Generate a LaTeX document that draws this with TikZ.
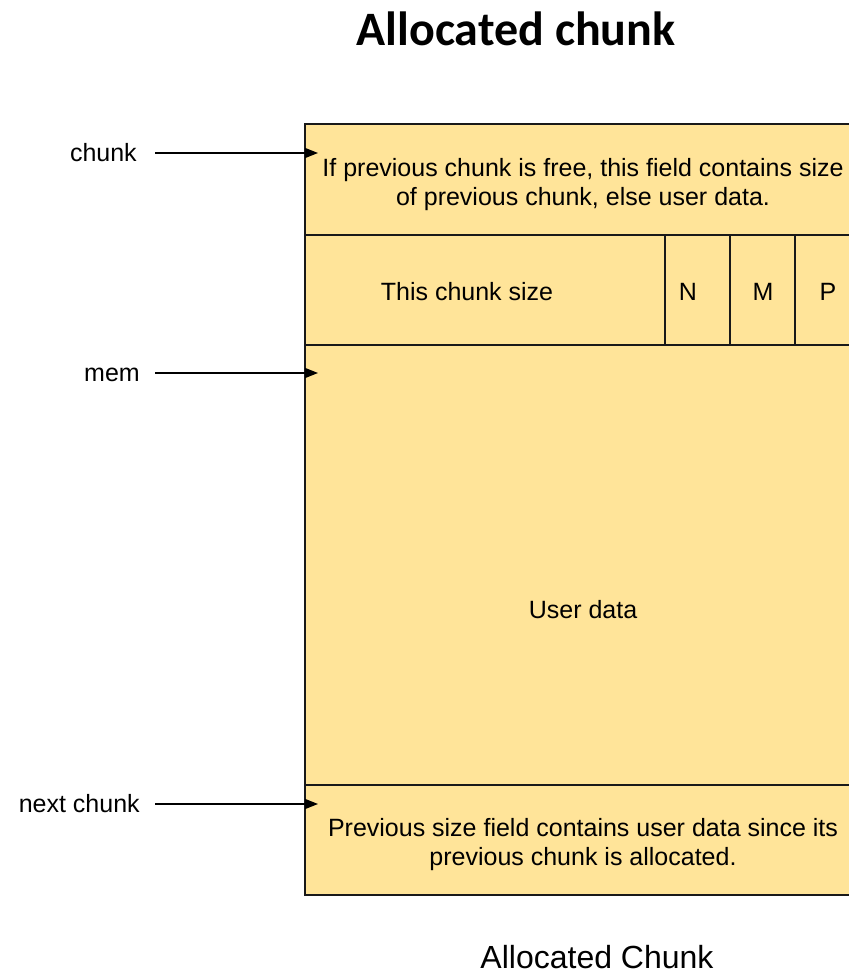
\documentclass[tikz,border=0pt]{standalone}
\usepackage{fontspec}
\setmainfont{Liberation Sans}
\newfontfamily\titlefont{Carlito}
\usetikzlibrary{arrows.meta}
\definecolor{chunkfill}{RGB}{255,228,153}
\definecolor{edge}{RGB}{25,25,25}
\begin{document}
\begin{tikzpicture}[x=0.75pt,y=-0.75pt,
  cellline/.style={draw=edge,line width=1.2pt},
  txt/.style={inner sep=0pt,align=center,font=\fontsize{18.75}{21.75}\selectfont},
  lbl/.style={inner sep=0pt,anchor=east,font=\fontsize{18.75}{21.75}\selectfont},
  ptr/.style={draw=black,line width=1pt,-{Triangle[length=9.75pt,width=7.5pt]}}]
\useasboundingbox (0,0) rectangle (849,976);
\clip (0,0) rectangle (849,976);
% title
\node[inner sep=0pt,font=\titlefont\bfseries\fontsize{36}{40}\selectfont] (title) at (516,29) {Allocated chunk};
% chunk body
\filldraw[cellline,fill=chunkfill] (305,124) rectangle (880,895);
\draw[cellline] (305,235) -- (880,235);
\draw[cellline] (305,345) -- (880,345);
\draw[cellline] (665,235) -- (665,345);
\draw[cellline] (730,235) -- (730,345);
\draw[cellline] (795,235) -- (795,345);
\draw[cellline] (305,785) -- (880,785);
% cell texts
\node[txt] (prevsize) at (583,185) {If previous chunk is free, this field contains size\\of previous chunk, else user data.};
\node[txt] (size) at (467,292) {This chunk size};
\node[txt] (nbit) at (688,292) {N};
\node[txt] (mbit) at (763,292) {M};
\node[txt] (pbit) at (828,292) {P};
\node[txt] (user) at (583,610) {User data};
\node[txt] (nextprev) at (583,845) {Previous size field contains user data since its\\previous chunk is allocated.};
% pointer labels
\node[lbl] (lchunk) at (137,153) {chunk};
\node[lbl] (lmem) at (140,375) {mem};
\node[lbl] (lnext) at (140,804) {next chunk};
\coordinate (tchunk) at (318,153);
\coordinate (tmem) at (318,373);
\coordinate (tnext) at (318,804);
\draw[ptr] (lchunk.east |- tchunk) ++(18,0) -- (tchunk);
\draw[ptr] (lmem.east |- tmem) ++(15,0) -- (tmem);
\draw[ptr] (lnext.east |- tnext) ++(15,0) -- (tnext);
% caption
\node[inner sep=0pt,font=\fontsize{24}{26}\selectfont] (caption) at (597,957) {Allocated Chunk};
\end{tikzpicture}
\end{document}
